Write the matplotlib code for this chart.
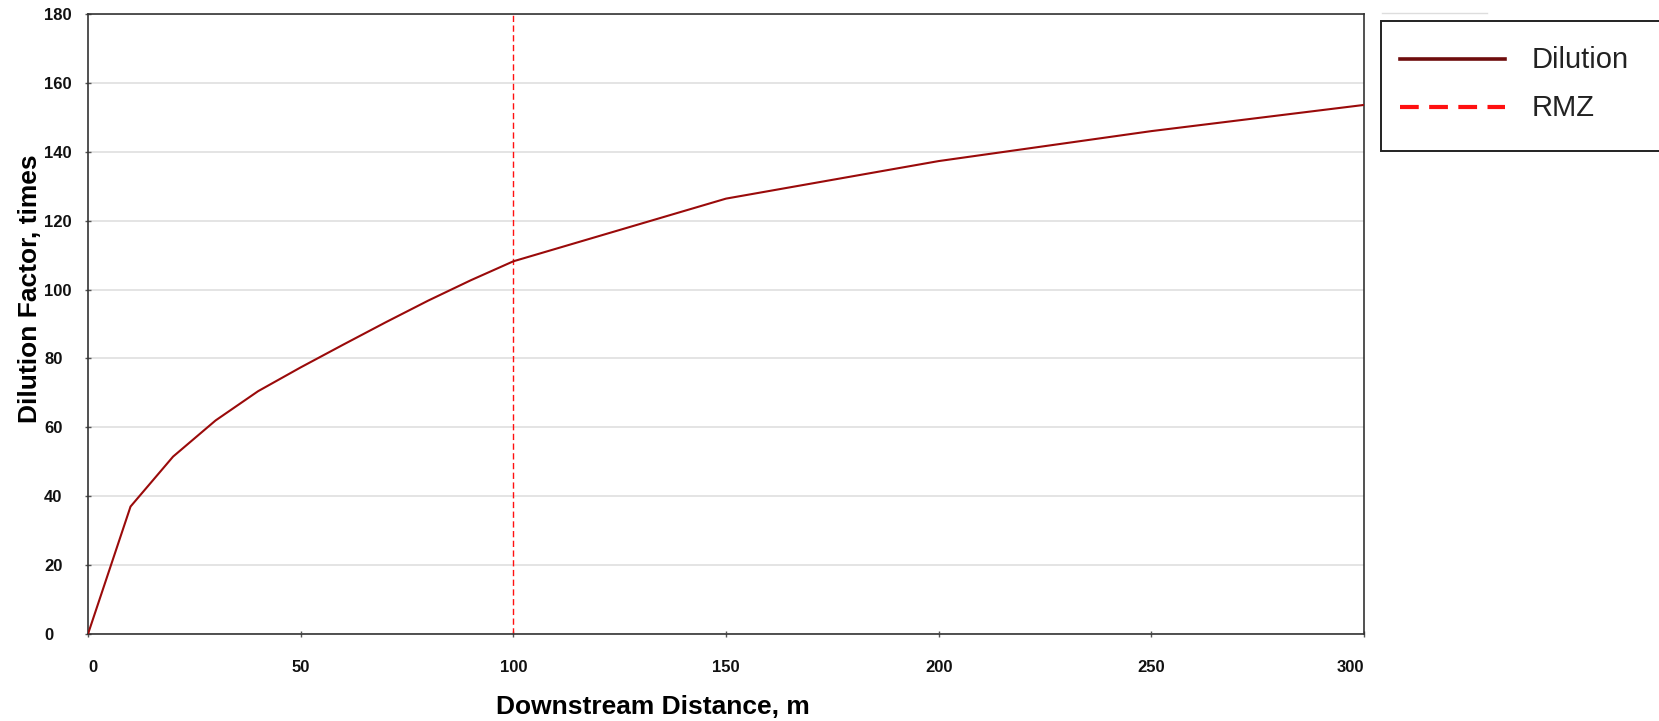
import matplotlib
matplotlib.use("Agg")
import matplotlib.pyplot as plt
from matplotlib.lines import Line2D
from matplotlib.patches import Rectangle

# Downstream distance (m) and dilution factor (times)
distance = [0, 10, 20, 30, 40, 50, 60, 70, 80, 90, 100, 150, 200, 250, 300]
dilution = [0, 37.0, 51.5, 62.0, 70.5, 77.4, 84.0, 90.5, 96.8, 102.7, 108.2,
            126.4, 137.3, 146.0, 153.6]

# Regulatory mixing zone boundary (m)
rmz_distance = 100

x_ticks = [0, 50, 100, 150, 200, 250, 300]
y_ticks = [0, 20, 40, 60, 80, 100, 120, 140, 160, 180]

series_names = ["Dilution", "RMZ"]
x_label = "Downstream Distance, m"
y_label = "Dilution Factor, times"

W, H = 1659, 721
fig = plt.figure(figsize=(W / 100, H / 100), dpi=100)
ax = fig.add_axes([88 / W, 1 - 634 / H, (1364 - 88) / W, (634 - 14) / H])

dil_color = "#9a0a0a"
rmz_color = "#ff1010"

ax.plot(distance, dilution, color=dil_color, lw=1.5, solid_joinstyle="round", zorder=3)
ax.plot([rmz_distance, rmz_distance], [y_ticks[0], y_ticks[-1]], color=rmz_color,
        lw=1.0, linestyle=(0, (4.5, 2.5)), zorder=2)

ax.set_xlim(x_ticks[0], x_ticks[-1])
ax.set_ylim(y_ticks[0], y_ticks[-1])
ax.set_xticks(x_ticks)
ax.set_yticks(y_ticks)
ax.grid(axis="y", color="#e2e2e2", lw=1.3, zorder=0)
ax.set_axisbelow(True)
for s in ax.spines.values():
    s.set_color("#333333")
    s.set_linewidth(1.2)

tick_font = dict(family="Liberation Sans", weight="bold", size=12, color="#111111")
ax.tick_params(axis="both", direction="inout", length=4, width=1, color="#555555")
ax.tick_params(axis="x", pad=17)
ax.tick_params(axis="y", pad=29.5)
ax.set_xticklabels([str(t) for t in x_ticks], fontdict=tick_font)
ax.set_yticklabels([str(t) for t in y_ticks], fontdict=tick_font, ha="left")
xl = ax.get_xticklabels()
xl[0].set_ha("left")
xl[-1].set_ha("right")

label_font = dict(family="Liberation Sans", weight="bold", size=19)
ax.set_xlabel(x_label, fontdict=label_font)
ax.xaxis.set_label_coords((653 - 88) / 1276, (634 - 695) / 620)
ax.set_ylabel(y_label, fontdict=label_font)
ax.yaxis.set_label_coords((42 - 88) / 1276, (634 - 289) / 620)

# Legend box, partly running past the right edge of the figure
fig.add_artist(Rectangle((1381 / W, 1 - 151 / H), 300 / W, 130 / H,
                         transform=fig.transFigure, facecolor="white",
                         edgecolor="#222222", lw=1.4))
fig.add_artist(Line2D([1382 / W, 1487 / W], [1 - 13 / H, 1 - 13 / H],
                      transform=fig.transFigure, color="#dddddd", lw=1.0))
fig.add_artist(Line2D([1400 / W, 1505 / W], [1 - 59 / H, 1 - 59 / H],
                      transform=fig.transFigure, color="#6e0c0c", lw=2.6))
fig.add_artist(Line2D([1400 / W, 1505 / W], [1 - 107 / H, 1 - 107 / H],
                      transform=fig.transFigure, color=rmz_color, lw=3.0,
                      linestyle=(0, (4.5, 2.5))))
leg_font = dict(family="Liberation Sans", size=21, color="#222222")
fig.text(1532 / W, 1 - 60 / H, series_names[0], ha="left", va="center", **leg_font)
fig.text(1532 / W, 1 - 108 / H, series_names[1], ha="left", va="center", **leg_font)

fig.savefig("out.png", dpi=100, facecolor="white")
